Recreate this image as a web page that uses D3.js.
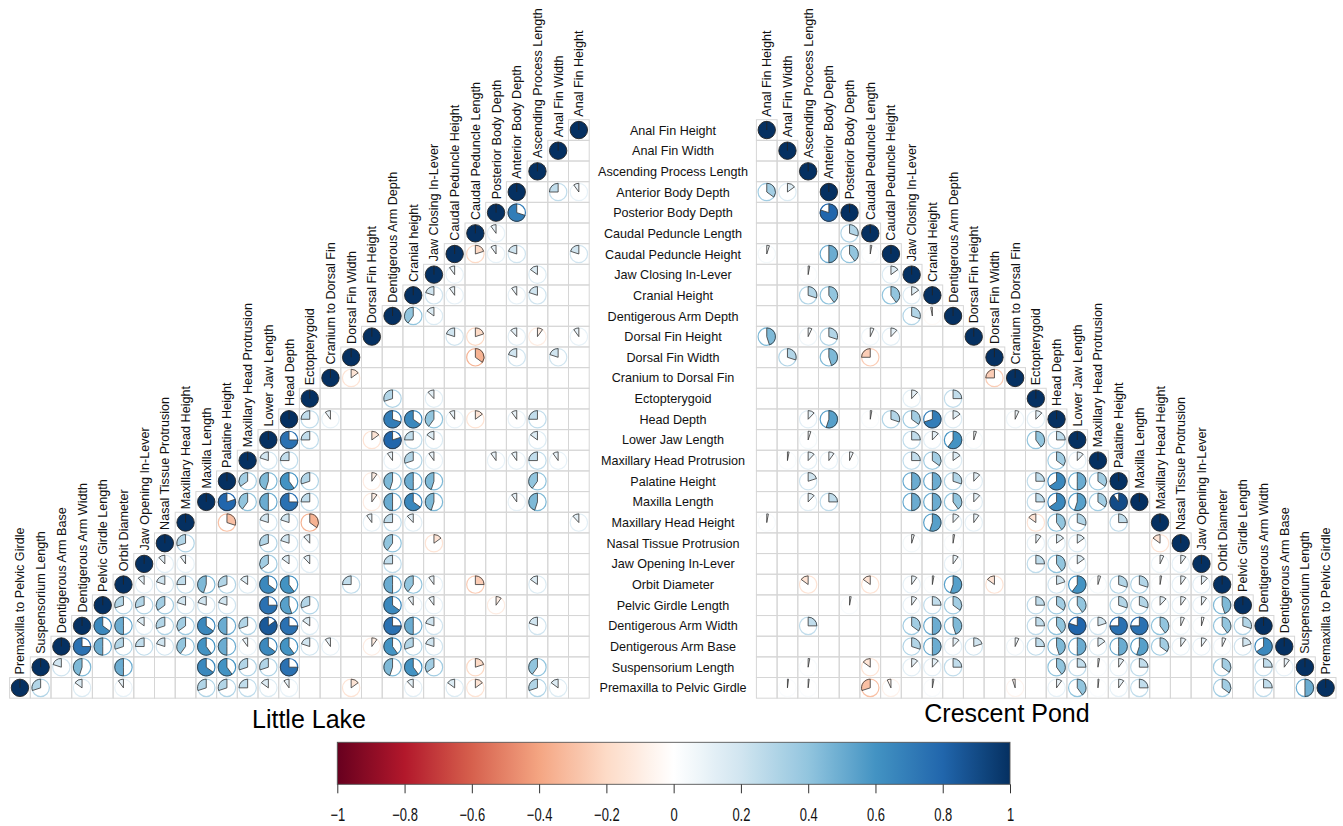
<!DOCTYPE html>
<html>
<head>
<meta charset="utf-8">
<script src="https://cdn.jsdelivr.net/npm/d3@7"></script>
<style>
  body { margin: 0; background: #fff; }
  text { font-family: "Liberation Sans", Arial, Helvetica, sans-serif; }
</style>
</head>
<body>
<script>
// trait names, in matrix order
var traits = ["Anal Fin Height", "Anal Fin Width", "Ascending Process Length", "Anterior Body Depth",
  "Posterior Body Depth", "Caudal Peduncle Length", "Caudal Peduncle Height", "Jaw Closing In-Lever",
  "Cranial Height", "Dentigerous Arm Depth", "Dorsal Fin Height", "Dorsal Fin Width",
  "Cranium to Dorsal Fin", "Ectopterygoid", "Head Depth", "Lower Jaw Length",
  "Maxillary Head Protrusion", "Palatine Height", "Maxilla Length", "Maxillary Head Height",
  "Nasal Tissue Protrusion", "Jaw Opening In-Lever", "Orbit Diameter", "Pelvic Girdle Length",
  "Dentigerous Arm Width", "Dentigerous Arm Base", "Suspensorium Length", "Premaxilla to Pelvic Girdle"];

// the left plot spells one label differently
var leftColumnLabels = traits.map(function(d){ return d === "Cranial Height" ? "Cranial height" : d; });

// [row trait, column trait, r] -- only the cells that are drawn
var littleLake = [
  [3,1,0.25],[3,0,0.1],
  [4,3,0.7],
  [5,4,0.1],
  [6,5,-0.2],[6,4,0.1],[6,3,0.2],[6,0,0.2],
  [7,6,0.1],[7,2,0.15],
  [8,7,0.2],[8,6,0.1],[8,3,0.1],[8,2,0.2],
  [9,8,0.4],[9,7,0.15],
  [10,6,0.2],[10,5,-0.2],[10,3,0.12],[10,2,-0.1],[10,0,0.1],
  [11,5,-0.35],[11,3,0.2],[11,1,0.2],
  [12,11,-0.15],
  [13,9,0.3],[13,7,0.12],
  [14,13,0.25],[14,12,0.1],[14,9,0.7],[14,8,0.65],[14,7,0.4],[14,6,0.1],[14,5,-0.15],[14,3,0.1],[14,2,0.25],
  [15,14,0.75],[15,13,0.25],[15,10,-0.15],[15,9,0.8],[15,8,0.25],[15,7,0.15],[15,2,0.15],
  [16,15,0.2],[16,14,0.25],[16,9,0.1],[16,8,0.3],[16,7,0.1],[16,4,0.1],[16,3,0.1],[16,2,0.25],[16,1,0.1],
  [17,16,0.35],[17,15,0.45],[17,14,0.6],[17,13,0.3],[17,10,-0.1],[17,9,0.45],[17,8,0.5],[17,7,0.45],[17,2,0.4],
  [18,17,0.8],[18,16,0.4],[18,15,0.5],[18,14,0.75],[18,13,0.25],[18,10,-0.1],[18,9,0.5],[18,8,0.65],[18,7,0.45],[18,3,0.1],[18,2,0.45],
  [19,17,-0.3],[19,15,0.2],[19,14,0.2],[19,13,-0.35],[19,10,0.1],[19,9,0.25],[19,8,0.12],[19,0,0.12],
  [20,19,0.3],[20,15,0.3],[20,14,0.2],[20,13,0.12],[20,9,0.4],[20,7,-0.15],
  [21,20,0.12],[21,19,0.1],[21,15,0.35],[21,14,0.15],[21,13,0.12],[21,9,0.25],
  [22,21,0.12],[22,20,0.2],[22,19,0.25],[22,18,0.45],[22,17,0.3],[22,16,0.15],[22,15,0.65],[22,14,0.6],[22,11,0.25],[22,9,0.5],[22,8,0.4],[22,7,0.1],[22,5,-0.25],[22,2,0.15],
  [23,22,0.3],[23,21,0.3],[23,20,0.35],[23,19,0.2],[23,18,0.2],[23,17,0.2],[23,15,0.75],[23,14,0.55],[23,13,0.3],[23,9,0.65],[23,8,0.1],[23,7,0.1],[23,4,-0.1],
  [24,23,0.65],[24,22,0.5],[24,21,0.15],[24,20,0.3],[24,19,0.35],[24,18,0.65],[24,17,0.5],[24,16,0.3],[24,15,0.85],[24,14,0.75],[24,13,0.15],[24,9,0.75],[24,8,0.5],[24,7,0.2],[24,2,0.2],
  [25,24,0.75],[25,23,0.5],[25,22,0.3],[25,21,0.25],[25,20,0.2],[25,19,0.4],[25,18,0.6],[25,17,0.5],[25,16,0.1],[25,15,0.65],[25,14,0.6],[25,13,0.2],[25,12,0.1],[25,10,-0.1],[25,9,0.6],[25,8,0.3],[25,7,0.2],
  [26,25,0.2],[26,24,0.45],[26,22,0.5],[26,18,0.65],[26,17,0.6],[26,16,0.3],[26,15,0.3],[26,14,0.75],[26,9,0.45],[26,8,0.6],[26,7,0.35],[26,5,-0.2],[26,2,0.4],
  [27,26,0.3],[27,24,0.15],[27,22,0.1],[27,18,0.3],[27,17,0.3],[27,16,0.25],[27,15,0.15],[27,14,0.1],[27,11,-0.15],[27,8,0.12],[27,6,0.15],[27,5,-0.15],[27,2,0.3],[27,1,0.15]
];

var crescentPond = [
  [3,0,0.35],[3,1,0.15],
  [4,3,0.8],
  [5,4,0.3],
  [6,0,0.05],[6,3,0.5],[6,4,0.4],[6,5,0.03],
  [7,2,0.03],[7,6,0.15],
  [8,2,0.3],[8,3,0.4],[8,6,0.4],[8,7,0.15],
  [9,7,0.3],[9,8,-0.03],
  [10,0,0.45],[10,2,0.07],[10,3,0.3],[10,5,0.07],[10,6,0.12],
  [11,1,0.3],[11,3,0.45],[11,5,-0.25],
  [12,11,-0.25],
  [13,7,0.12],[13,9,0.25],
  [14,2,0.12],[14,3,0.55],[14,5,0.03],[14,6,0.3],[14,7,0.35],[14,8,0.7],[14,9,0.15],[14,12,0.07],[14,13,0.12],
  [15,2,0.05],[15,7,0.25],[15,8,0.12],[15,9,0.6],[15,10,0.05],[15,13,0.4],[15,14,0.25],
  [16,1,0.03],[16,2,0.12],[16,3,0.1],[16,4,0.07],[16,7,0.25],[16,8,0.35],[16,9,0.15],[16,14,0.35],[16,15,0.12],
  [17,2,0.2],[17,7,0.5],[17,8,0.5],[17,9,0.3],[17,10,0.12],[17,13,0.25],[17,14,0.65],[17,15,0.5],[17,16,0.35],
  [18,2,0.12],[18,3,0.25],[18,7,0.5],[18,8,0.5],[18,9,0.4],[18,10,0.12],[18,13,0.25],[18,14,0.65],[18,15,0.55],[18,16,0.35],[18,17,0.9],
  [19,0,0.03],[19,8,0.55],[19,9,0.12],[19,10,0.1],[19,13,-0.15],[19,14,0.4],[19,15,0.3],[19,17,0.25],
  [20,7,0.05],[20,9,0.03],[20,13,0.1],[20,14,0.15],[20,15,0.15],[20,19,-0.15],
  [21,9,0.1],[21,13,0.25],[21,14,0.4],[21,15,0.15],[21,19,0.07],[21,20,0.1],
  [22,2,-0.15],[22,5,-0.15],[22,7,0.1],[22,8,0.03],[22,9,0.55],[22,11,-0.15],[22,14,0.2],[22,15,0.6],[22,16,0.05],[22,17,0.3],[22,18,0.3],[22,19,0.03],[22,20,0.1],[22,21,0.12],
  [23,4,0.03],[23,7,0.1],[23,8,0.25],[23,9,0.35],[23,13,0.25],[23,14,0.35],[23,15,0.4],[23,17,0.3],[23,18,0.3],[23,19,0.12],[23,20,0.1],[23,21,0.1],[23,22,0.45],
  [24,2,0.25],[24,7,0.35],[24,8,0.5],[24,9,0.45],[24,13,0.25],[24,14,0.4],[24,15,0.8],[24,16,0.2],[24,17,0.75],[24,18,0.75],[24,19,0.4],[24,20,0.07],[24,21,0.05],[24,22,0.4],[24,23,0.3],
  [25,7,0.3],[25,8,0.5],[25,9,0.12],[25,10,0.2],[25,12,0.07],[25,13,0.25],[25,14,0.45],[25,15,0.5],[25,16,0.15],[25,17,0.5],[25,18,0.55],[25,19,0.35],[25,20,0.1],[25,21,0.1],[25,22,0.07],[25,23,0.2],[25,24,0.65],
  [26,2,0.03],[26,5,-0.15],[26,7,0.12],[26,8,0.12],[26,9,0.25],[26,14,0.4],[26,15,0.25],[26,16,0.03],[26,17,0.1],[26,18,0.25],[26,22,0.35],[26,24,0.25],[26,25,0.1],
  [27,1,0.02],[27,2,0.02],[27,5,-0.3],[27,6,-0.07],[27,8,0.03],[27,12,-0.05],[27,14,0.1],[27,15,0.4],[27,16,0.02],[27,17,0.1],[27,18,0.25],[27,22,0.35],[27,24,0.25],[27,26,0.5]
];

var colorTicks = [-1, -0.8, -0.6, -0.4, -0.2, 0, 0.2, 0.4, 0.6, 0.8, 1];
var palette = ["#67001F", "#B2182B", "#D6604D", "#F4A582", "#FDDBC7", "#FFFFFF",
               "#D1E5F0", "#92C5DE", "#4393C3", "#2166AC", "#053061"];

var W = 1343, H = 826, cell = 20.7, cellH = 20.66, radius = 8.7;

var svg = d3.select("body").append("svg")
    .attr("width", W).attr("height", H)
    .attr("viewBox", "0 0 " + W + " " + H);

svg.append("rect").attr("width", W).attr("height", H).attr("fill", "#fff");

var color = d3.scaleLinear()
    .domain(d3.range(-1, 1.0001, 0.2))
    .range(palette)
    .interpolate(d3.interpolateRgb);

var idx = d3.range(traits.length);

var y = d3.scaleBand().domain(idx).range([119.7, 119.7 + cellH * 28]);
// left plot is mirrored: last trait in the first column
var xLeft = d3.scaleBand().domain(idx.slice().reverse()).range([9.6, 9.6 + cell * 28]);
var xRight = d3.scaleBand().domain(idx).range([756.4, 756.4 + cell * 28]);

var arc = d3.arc().innerRadius(0).outerRadius(radius);

function drawMatrix(data, x, mirror, labels) {
  var g = svg.append("g");

  // grid for the lower triangle
  var cells = [];
  idx.forEach(function(i){ for (var j = 0; j <= i; j++) cells.push([i, j]); });
  g.selectAll(".cell")
      .data(cells)
      .enter()
      .append("rect")
      .attr("x", function(d){ return x(d[1]); })
      .attr("y", function(d){ return y(d[0]); })
      .attr("width", x.bandwidth())
      .attr("height", y.bandwidth())
      .attr("fill", "none")
      .attr("stroke", "#d6d6d6")
      .attr("stroke-width", 1);

  // column labels
  g.selectAll(".collab")
      .data(idx)
      .enter()
      .append("text")
      .attr("transform", function(d){
        return "translate(" + (x(d) + x.bandwidth() / 2 + 4.5) + "," + (y(d) - 3) + ") rotate(-90)";
      })
      .style("font-size", "12.6px")
      .attr("fill", "#111")
      .text(function(d){ return labels[d]; });

  // diagonal
  var diag = g.selectAll(".diag")
      .data(idx)
      .enter()
      .append("g")
      .attr("transform", function(d){
        return "translate(" + (x(d) + x.bandwidth() / 2) + "," + (y(d) + y.bandwidth() / 2) + ")";
      });
  diag.append("circle").attr("r", radius).attr("fill", color(1))
      .attr("stroke", "#222").attr("stroke-width", 0.9);
  diag.append("line").attr("x1", 0).attr("y1", 0).attr("x2", 0).attr("y2", -radius)
      .attr("stroke", "#222").attr("stroke-width", 0.9);

  // pies
  var pie = g.selectAll(".pie")
      .data(data)
      .enter()
      .append("g")
      .attr("transform", function(d){
        return "translate(" + (x(d[1]) + x.bandwidth() / 2) + "," + (y(d[0]) + y.bandwidth() / 2) + ")";
      });
  pie.append("circle")
      .attr("r", radius)
      .attr("fill", "none")
      .attr("stroke", function(d){ return color(d[2]); })
      .attr("stroke-width", 1.2);
  pie.append("path")
      .attr("d", function(d){
        var a = 2 * Math.PI * d[2] * (mirror ? -1 : 1);
        return arc({startAngle: Math.min(0, a), endAngle: Math.max(0, a)});
      })
      .attr("fill", function(d){ return color(d[2]); })
      .attr("stroke", "#333")
      .attr("stroke-width", 0.8)
      .attr("stroke-linejoin", "round");
}

drawMatrix(littleLake, xLeft, true, leftColumnLabels);
drawMatrix(crescentPond, xRight, false, traits);

// row labels in the middle
svg.selectAll(".rowlab")
    .data(idx)
    .enter()
    .append("text")
    .attr("x", 673)
    .attr("y", function(d){ return y(d) + y.bandwidth() / 2; })
    .attr("dy", "0.36em")
    .attr("text-anchor", "middle")
    .style("font-size", "12.6px")
    .attr("fill", "#111")
    .text(function(d){ return traits[d]; });

// titles
svg.append("text").attr("x", 252).attr("y", 728)
    .style("font-size", "25px").attr("fill", "#000").text("Little Lake");
svg.append("text").attr("x", 1007).attr("y", 722).attr("text-anchor", "middle")
    .style("font-size", "25px").attr("fill", "#000").text("Crescent Pond");

// colour bar
var cb = d3.scaleLinear().domain([-1, 1]).range([337.3, 1010]);
var grad = svg.append("defs").append("linearGradient").attr("id", "cbar")
    .attr("x1", "0%").attr("x2", "100%").attr("y1", "0%").attr("y2", "0%");
grad.selectAll("stop")
    .data(d3.range(0, 1.0001, 0.02))
    .enter()
    .append("stop")
    .attr("offset", function(d){ return (d * 100) + "%"; })
    .attr("stop-color", function(d){ return color(-1 + 2 * d); });

svg.append("rect")
    .attr("x", cb(-1)).attr("y", 742.3)
    .attr("width", cb(1) - cb(-1)).attr("height", 42)
    .attr("fill", "url(#cbar)")
    .attr("stroke", "#555").attr("stroke-width", 0.9);

var axis = svg.append("g")
    .attr("transform", "translate(0,784.3)")
    .call(d3.axisBottom(cb).tickValues(colorTicks).tickSize(9).tickFormat(d3.format("")));
axis.select(".domain").remove();
axis.selectAll("line").attr("stroke", "#333");
axis.selectAll("text")
    .attr("y", 37).attr("dy", 0)
    .attr("transform", "scale(0.72,1)")
    .style("font-size", "18px")
    .style("font-family", "'Liberation Sans', Arial, sans-serif")
    .attr("fill", "#111");
</script>
</body>
</html>
